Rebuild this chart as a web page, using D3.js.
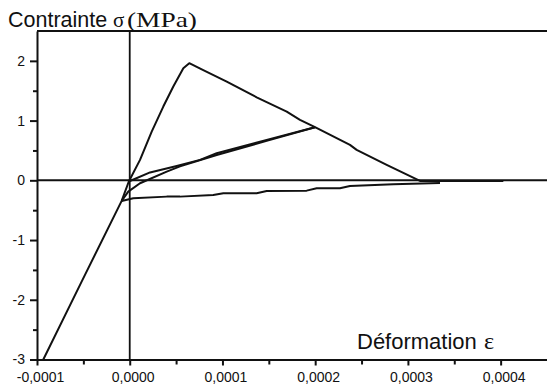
<!DOCTYPE html>
<html>
<head>
<meta charset="utf-8">
<script src="https://cdn.jsdelivr.net/npm/d3@7"></script>
<style>
  html, body { margin: 0; padding: 0; background: #fff; }
  svg { display: block; }
</style>
</head>
<body>
<svg id="chart" width="547" height="388"></svg>
<script>
// Stress–strain record of a cyclic test: strain ε (–), stress σ (MPa)

// Compression to -3 MPa, reversal through the origin, tensile peak, softening down to ε = 0,0002
const loadingStrain = [-0.932e-4, -0.520e-4, -0.087e-4, -0.010e-4,
  0.111e-4, 0.237e-4, 0.362e-4, 0.470e-4, 0.578e-4, 0.642e-4,
  0.793e-4, 1.046e-4, 1.369e-4, 1.693e-4, 1.836e-4, 1.998e-4];
const loadingStress = [-3.00, -1.70, -0.345, -0.02,
  0.342, 0.816, 1.235, 1.570, 1.878, 1.961,
  1.845, 1.653, 1.390, 1.151, 1.012, 0.889];

// Unloading from ε = 0,0002 back into compression
const unloadStrain = [1.998e-4, 1.477e-4, 0.938e-4, 0.542e-4, 0.399e-4, 0.111e-4, -0.016e-4, -0.087e-4];
const unloadStress = [0.889, 0.660, 0.425, 0.233, 0.146, -0.049, -0.189, -0.345];

// Reloading from the origin, then further softening down to zero stress
const reloadStrain = [-0.010e-4, 0.219e-4, 0.507e-4, 0.758e-4, 0.938e-4, 1.477e-4, 1.998e-4,
  2.375e-4, 2.447e-4, 2.771e-4, 3.130e-4, 4.029e-4];
const reloadStress = [-0.02, 0.132, 0.241, 0.342, 0.454, 0.677, 0.889,
  0.593, 0.509, 0.258, -0.01, -0.01];

// Residual compressive branch closing towards zero stress
const residualStrain = [-0.087e-4, 0.038e-4, 0.399e-4, 0.542e-4, 0.901e-4, 1.009e-4, 1.369e-4,
  1.477e-4, 1.908e-4, 2.016e-4, 2.267e-4, 2.375e-4, 2.842e-4, 3.346e-4];
const residualStress = [-0.345, -0.300, -0.273, -0.273, -0.245, -0.216, -0.216,
  -0.178, -0.173, -0.132, -0.132, -0.094, -0.065, -0.044];

// Axis ticks and titles
const xMajorTicks = [-0.0001, 0, 0.0001, 0.0002, 0.0003, 0.0004];
const xMinorTicks = [-0.00005, 0.00005, 0.00015, 0.00025, 0.00035];
const yMajorTicks = [-3, -2, -1, 0, 1, 2];
const yMinorTicks = [-2.5, -1.5, -0.5, 0.5, 1.5];
const yTitle = ["Contrainte", "σ", "(MPa)"];
const xTitle = ["Déformation", "ε"];

const svg = d3.select("#chart");
const plotLeft = 37, plotRight = 547, plotTop = 31, plotBottom = 359.5;

const x = d3.scaleLinear().domain([-0.0001, 0.00045]).range([plotLeft, plotRight]);
const y = d3.scaleLinear().domain([-3, 2.5]).range([plotBottom, plotTop]);

const locale = d3.formatLocale({decimal: ",", thousands: " ", grouping: [3], currency: ["", ""], minus: "-"});
const fmtX = locale.format(".4f");
const fmtY = locale.format("d");

const sans = "'Liberation Sans', Arial, sans-serif";
const serif = "'Liberation Serif', 'Times New Roman', serif";

// Minor ticks first (no labels)
svg.append("g")
  .attr("transform", `translate(0,${plotBottom})`)
  .call(d3.axisBottom(x).tickValues(xMinorTicks).tickSize(5).tickFormat(""))
  .call(g => g.select(".domain").remove())
  .call(g => g.selectAll("line").attr("stroke", "#111").attr("stroke-width", 2));

svg.append("g")
  .attr("transform", `translate(${plotLeft},0)`)
  .call(d3.axisLeft(y).tickValues(yMinorTicks).tickSize(4).tickFormat(""))
  .call(g => g.select(".domain").remove())
  .call(g => g.selectAll("line").attr("stroke", "#111").attr("stroke-width", 2));

// Major ticks with labels
svg.append("g")
  .attr("transform", `translate(0,${plotBottom})`)
  .call(d3.axisBottom(x).tickValues(xMajorTicks).tickSize(6).tickSizeOuter(0).tickPadding(7).tickFormat(fmtX))
  .call(g => g.select(".domain").attr("stroke", "#111").attr("stroke-width", 2))
  .call(g => g.selectAll("line").attr("stroke", "#111").attr("stroke-width", 2))
  .call(g => g.selectAll("text").attr("fill", "#111").attr("dx", 3)
    .style("font-family", sans).style("font-size", "14px"));

svg.append("g")
  .attr("transform", `translate(${plotLeft},0)`)
  .call(d3.axisLeft(y).tickValues(yMajorTicks).tickSize(7).tickSizeOuter(0).tickPadding(5).tickFormat(fmtY))
  .call(g => g.select(".domain").attr("stroke", "#111").attr("stroke-width", 2))
  .call(g => g.selectAll("line").attr("stroke", "#111").attr("stroke-width", 2))
  .call(g => g.selectAll("text").attr("fill", "#111")
    .style("font-family", sans).style("font-size", "14px"));

// Top frame line and the two zero reference lines
svg.append("line")
  .attr("x1", plotLeft).attr("x2", plotRight).attr("y1", y(2.5)).attr("y2", y(2.5))
  .attr("stroke", "#111").attr("stroke-width", 2);
svg.append("line")
  .attr("x1", x(0)).attr("x2", x(0)).attr("y1", plotTop).attr("y2", plotBottom)
  .attr("stroke", "#111").attr("stroke-width", 1.8);
svg.append("line")
  .attr("x1", plotLeft).attr("x2", plotRight).attr("y1", y(0)).attr("y2", y(0))
  .attr("stroke", "#111").attr("stroke-width", 2);

// Curves
const line = d3.line().x(d => x(d[0])).y(d => y(d[1]));
const branches = [
  [loadingStrain, loadingStress],
  [unloadStrain, unloadStress],
  [reloadStrain, reloadStress],
  [residualStrain, residualStress]
];
svg.append("g").selectAll("path")
  .data(branches.map(([s, v]) => s.map((e, i) => [e, v[i]])))
  .join("path")
  .attr("d", line)
  .attr("fill", "none")
  .attr("stroke", "#111")
  .attr("stroke-width", 2)
  .attr("stroke-linejoin", "round");

// Axis titles
svg.append("text").attr("x", 8).attr("y", 27)
  .style("font-family", sans).style("font-size", "21.5px").attr("fill", "#111").text(yTitle[0]);
svg.append("text").attr("x", 113).attr("y", 27)
  .style("font-family", serif).style("font-size", "21px").attr("fill", "#111").text(yTitle[1]);
svg.append("text").attr("x", 127).attr("y", 27)
  .attr("textLength", 70).attr("lengthAdjust", "spacingAndGlyphs")
  .style("font-family", serif).style("font-size", "21px").attr("fill", "#111").text(yTitle[2]);

svg.append("text").attr("x", 357).attr("y", 349)
  .style("font-family", sans).style("font-size", "22px").attr("fill", "#111").text(xTitle[0]);
svg.append("text").attr("x", 484).attr("y", 349)
  .style("font-family", serif).style("font-size", "24px").attr("fill", "#111").text(xTitle[1]);
</script>
</body>
</html>
